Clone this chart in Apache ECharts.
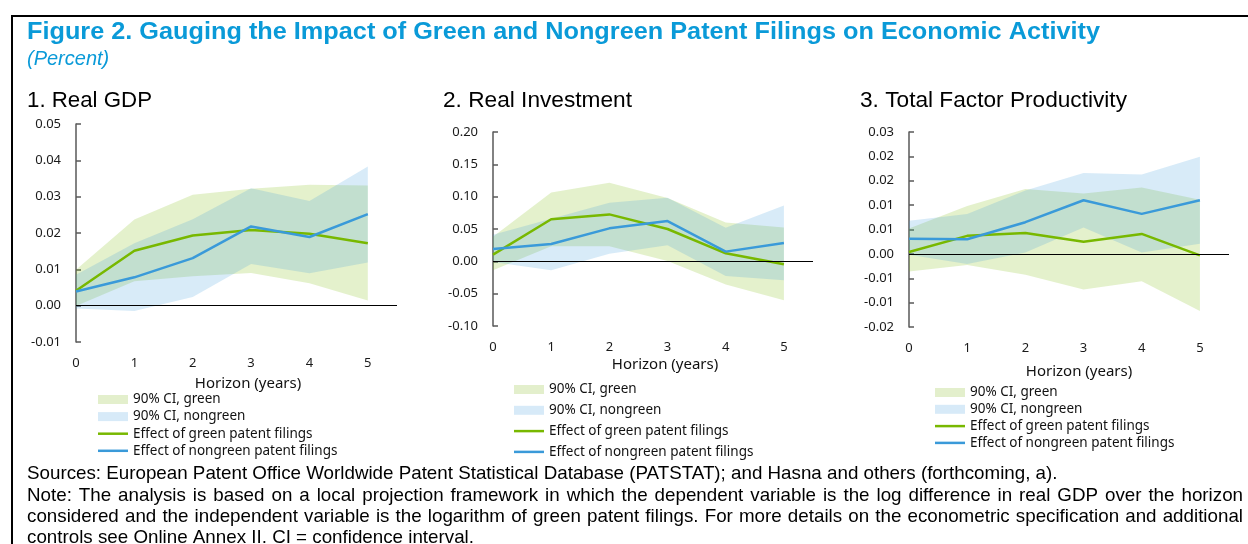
<!DOCTYPE html>
<html><head><meta charset="utf-8">
<script src="https://cdn.jsdelivr.net/npm/echarts@6/dist/echarts.min.js"></script>
<style>html,body{margin:0;padding:0;background:#fff}#c{width:1248px;height:544px}</style>
</head><body><div id="c"></div>
<script>
// ---------- data ----------
const horizons = [0, 1, 2, 3, 4, 5];

const gdpGreen      = [0.0041, 0.0151, 0.0193, 0.0208, 0.0198, 0.0172];
const gdpNongreen   = [0.0039, 0.0078, 0.0131, 0.0218, 0.0189, 0.0252];
const gdpGreenLo    = [-0.0001, 0.0067, 0.0081, 0.0090, 0.0062, 0.0014];
const gdpGreenHi    = [0.0099, 0.0237, 0.0305, 0.0322, 0.0333, 0.0331];
const gdpNongreenLo = [-0.0008, -0.0015, 0.0024, 0.0115, 0.0089, 0.0119];
const gdpNongreenHi = [0.0085, 0.0172, 0.0238, 0.0323, 0.0288, 0.0383];
const gdpTicks = ['-0.01', '0.00', '0.01', '0.02', '0.03', '0.04', '0.05'];

const invGreen      = [0.0103, 0.0650, 0.0726, 0.0500, 0.0124, -0.0046];
const invNongreen   = [0.0190, 0.0268, 0.0510, 0.0623, 0.0150, 0.0283];
const invGreenLo    = [-0.0139, 0.0232, 0.0232, 0.0005, -0.0360, -0.0603];
const invGreenHi    = [0.0380, 0.1066, 0.1215, 0.0980, 0.0600, 0.0525];
const invNongreenLo = [-0.0010, -0.0139, 0.0118, 0.0247, -0.0227, -0.0294];
const invNongreenHi = [0.0410, 0.0660, 0.0906, 0.0985, 0.0520, 0.0865];
const invTicks = ['-0.10', '-0.05', '0.00', '0.05', '0.10', '0.15', '0.20'];

const tfpGreen      = [0.0004, 0.0037, 0.0043, 0.0025, 0.0041, -0.0003];
const tfpNongreen   = [0.0031, 0.0030, 0.0065, 0.0110, 0.0082, 0.0110];
const tfpGreenLo    = [-0.0036, -0.0023, -0.0043, -0.0073, -0.0056, -0.0117];
const tfpGreenHi    = [0.0052, 0.0098, 0.0133, 0.0124, 0.0136, 0.0111];
const tfpNongreenLo = [-0.0002, -0.0021, 0.0003, 0.0054, 0.0003, 0.0021];
const tfpNongreenHi = [0.0068, 0.0082, 0.0130, 0.0166, 0.0163, 0.0199];
const tfpTicks = ['-0.02', '-0.01', '-0.01', '0.00', '0.01', '0.01', '0.02', '0.02', '0.03'];

const panelTitles = ['1. Real GDP', '2. Real Investment', '3. Total Factor Productivity'];
const seriesNames = ['90% CI, green', '90% CI, nongreen', 'Effect of green patent filings', 'Effect of nongreen patent filings'];
const figTitle = 'Figure 2. Gauging the Impact of Green and Nongreen Patent Filings on Economic Activity';
const figUnit = '(Percent)';
const xTitle = 'Horizon (years)';
const sourcesText = 'Sources: European Patent Office Worldwide Patent Statistical Database (PATSTAT); and Hasna and others (forthcoming, a).';
const noteLines = [
  'Note: The analysis is based on a local projection framework in which the dependent variable is the log difference in real GDP over the horizon',
  'considered and the independent variable is the logarithm of green patent filings. For more details on the econometric specification and additional',
  'controls see Online Annex II. CI = confidence interval.'
];

// ---------- styling / layout ----------
const GREEN = '#78b800', BLUE = '#3a9ad9';
const GREEN_BAND = 'rgba(122,184,0,0.2)', BLUE_BAND = 'rgba(58,155,220,0.2)';
const AXIS_FONT = 'Noto Sans';
const ARIAL = 'Liberation Sans';

const panels = [
  {green: gdpGreen, nongreen: gdpNongreen, gLo: gdpGreenLo, gHi: gdpGreenHi, nLo: gdpNongreenLo, nHi: gdpNongreenHi,
   min: -0.01, max: 0.05, interval: 0.01, ticks: gdpTicks,
   grid: {left: 76, top: 124, width: 321, height: 218},
   legend: {left: 98, top: 392, gap: 2.1}, xt: {x: 248, y: 384}, title: {x: 27, w: 125}},
  {green: invGreen, nongreen: invNongreen, gLo: invGreenLo, gHi: invGreenHi, nLo: invNongreenLo, nHi: invNongreenHi,
   min: -0.10, max: 0.20, interval: 0.05, ticks: invTicks,
   grid: {left: 493, top: 132, width: 320, height: 194},
   legend: {left: 514, top: 382, gap: 5.8}, xt: {x: 665, y: 365}, title: {x: 443, w: 189}},
  {green: tfpGreen, nongreen: tfpNongreen, gLo: tfpGreenLo, gHi: tfpGreenHi, nLo: tfpNongreenLo, nHi: tfpNongreenHi,
   min: -0.015, max: 0.025, interval: 0.005, ticks: tfpTicks,
   grid: {left: 909, top: 132, width: 320, height: 195},
   legend: {left: 935, top: 385, gap: 1.8}, xt: {x: 1079, y: 372}, title: {x: 860, w: 267}}
];

// ---------- text measuring ----------
const mctx = document.createElement('canvas').getContext('2d');
function measure(text, font) { mctx.font = font; return mctx.measureText(text).width; }

const pairs = arr => horizons.map((h, i) => [h, arr[i]]);

// band drawn as a polygon through the axes' own scales (api.coord)
function bandSeries(i, name, lo, hi, fill, z) {
  return {
    type: 'custom', name: name, xAxisIndex: i, yAxisIndex: i, silent: true, animation: false, z: z,
    data: horizons.map((h, k) => [h, lo[k], hi[k]]),
    encode: {x: 0, y: [1, 2]},
    itemStyle: {color: fill},
    renderItem: (params, api) => {
      if (params.dataIndex !== 0) return null;
      const top = horizons.map((h, k) => api.coord([h, hi[k]]));
      const bot = horizons.map((h, k) => api.coord([h, lo[k]])).reverse();
      return {type: 'polygon', shape: {points: top.concat(bot)}, style: {fill: fill}, silent: true};
    }
  };
}

const grids = [], xAxes = [], yAxes = [], series = [], legends = [], graphics = [];

panels.forEach((p, i) => {
  grids.push(Object.assign({containLabel: false}, p.grid));
  xAxes.push({
    gridIndex: i, type: 'value', min: 0, max: 5.5, interval: 1,
    axisLine: {show: false}, axisTick: {show: false}, splitLine: {show: false},
    axisLabel: {margin: 15, fontSize: 13, fontFamily: AXIS_FONT, color: '#1a1a1a',
      formatter: v => horizons.includes(v) ? String(v) : ''}
  });
  yAxes.push({
    gridIndex: i, type: 'value', min: p.min, max: p.max, interval: p.interval,
    axisLine: {show: true, lineStyle: {color: '#595959', width: 1.5}},
    axisTick: {show: true, inside: true, length: 5, lineStyle: {color: '#595959', width: 1.5}},
    splitLine: {show: false},
    axisLabel: {margin: 15, fontSize: 13, fontFamily: AXIS_FONT, color: '#1a1a1a',
      formatter: v => { const k = Math.round((v - p.min) / p.interval); return p.ticks[k] !== undefined ? p.ticks[k] : ''; }}
  });
  series.push(bandSeries(i, seriesNames[0], p.gLo, p.gHi, GREEN_BAND, 1));
  series.push(bandSeries(i, seriesNames[1], p.nLo, p.nHi, BLUE_BAND, 2));
  const common = {type: 'line', xAxisIndex: i, yAxisIndex: i, symbol: 'none', showSymbol: false,
    animation: false, silent: true, emphasis: {disabled: true}};
  series.push(Object.assign({}, common, {name: seriesNames[2], data: pairs(p.green), color: GREEN,
    lineStyle: {color: GREEN, width: 2.5}, z: 4,
    markLine: {silent: true, symbol: ['none', 'none'], animation: false, label: {show: false},
      lineStyle: {color: '#000', width: 1.2, type: 'solid'}, data: [{yAxis: 0}]}}));
  series.push(Object.assign({}, common, {name: seriesNames[3], data: pairs(p.nongreen), color: BLUE,
    lineStyle: {color: BLUE, width: 2.5}, z: 5}));

  legends.push({
    orient: 'vertical', left: p.legend.left, top: p.legend.top, padding: 0, itemGap: p.legend.gap,
    itemWidth: 30, itemHeight: 9, selectedMode: false,
    textStyle: {fontFamily: AXIS_FONT, fontSize: 13.5, color: '#111', lineHeight: 15},
    data: [
      {name: seriesNames[0], icon: 'rect', itemStyle: {color: '#e3efcc', borderWidth: 0}},
      {name: seriesNames[1], icon: 'rect', itemStyle: {color: '#d7eaf8', borderWidth: 0}},
      {name: seriesNames[2], icon: 'path://M0,0H30V2.5H0Z', itemStyle: {color: GREEN, borderWidth: 0}},
      {name: seriesNames[3], icon: 'path://M0,0H30V2.5H0Z', itemStyle: {color: BLUE, borderWidth: 0}}
    ]
  });

  graphics.push({type: 'text', x: p.xt.x, y: p.xt.y, silent: true,
    style: {text: xTitle, fontFamily: AXIS_FONT, fontSize: 15, fill: '#111', align: 'center', verticalAlign: 'middle'}});
  const tf = '22px "' + ARIAL + '"';
  const sc = p.title.w / measure(panelTitles[i], tf);
  graphics.push({type: 'text', x: p.title.x, y: 101, scaleX: Math.min(1.2, Math.max(0.85, sc)), silent: true,
    style: {text: panelTitles[i], font: tf, fill: '#000', align: 'left', verticalAlign: 'middle'}});
});

// frame
graphics.push({type: 'line', silent: true, shape: {x1: 11, y1: 16, x2: 1248, y2: 16}, style: {stroke: '#000', lineWidth: 2}});
graphics.push({type: 'line', silent: true, shape: {x1: 12, y1: 15, x2: 12, y2: 544}, style: {stroke: '#000', lineWidth: 2}});

// main title
const titleFont = 'bold 23px "' + ARIAL + '"';
const titleScale = 1073 / measure(figTitle, titleFont);
graphics.push({type: 'text', x: 27, y: 32.5, scaleX: Math.min(1.25, Math.max(0.85, titleScale)), silent: true,
  style: {text: figTitle, font: titleFont, fill: '#0a9ad8', align: 'left', verticalAlign: 'middle'}});
graphics.push({type: 'text', x: 27, y: 59.5, silent: true,
  style: {text: figUnit, font: 'italic 20px "' + ARIAL + '"', fill: '#0a9ad8', align: 'left', verticalAlign: 'middle'}});

// sources & notes
let fs = 17 * 1031 / measure(sourcesText, '17px "' + ARIAL + '"');
fs = Math.min(19, Math.max(15, fs));
const noteFont = fs.toFixed(2) + 'px "' + ARIAL + '"';
const lineYs = [474, 496, 517, 538];
graphics.push({type: 'text', x: 27, y: lineYs[0], silent: true,
  style: {text: sourcesText, font: noteFont, fill: '#000', align: 'left', verticalAlign: 'middle'}});
function justify(text, y, left, right) {
  const words = text.split(' ');
  const ws = words.map(w => measure(w, noteFont));
  const total = ws.reduce((a, b) => a + b, 0);
  const gap = (right - left - total) / (words.length - 1);
  let x = left;
  words.forEach((w, k) => {
    graphics.push({type: 'text', x: x, y: y, silent: true,
      style: {text: w, font: noteFont, fill: '#000', align: 'left', verticalAlign: 'middle'}});
    x += ws[k] + gap;
  });
}
justify(noteLines[0], lineYs[1], 27, 1243);
justify(noteLines[1], lineYs[2], 27, 1243);
graphics.push({type: 'text', x: 27, y: lineYs[3], silent: true,
  style: {text: noteLines[2], font: noteFont, fill: '#000', align: 'left', verticalAlign: 'middle'}});

const chart = echarts.init(document.getElementById('c'), null, {renderer: 'canvas'});
chart.setOption({
  animation: false,
  backgroundColor: '#ffffff',
  grid: grids, xAxis: xAxes, yAxis: yAxes, series: series, legend: legends,
  graphic: {elements: graphics}
});
</script></body></html>
